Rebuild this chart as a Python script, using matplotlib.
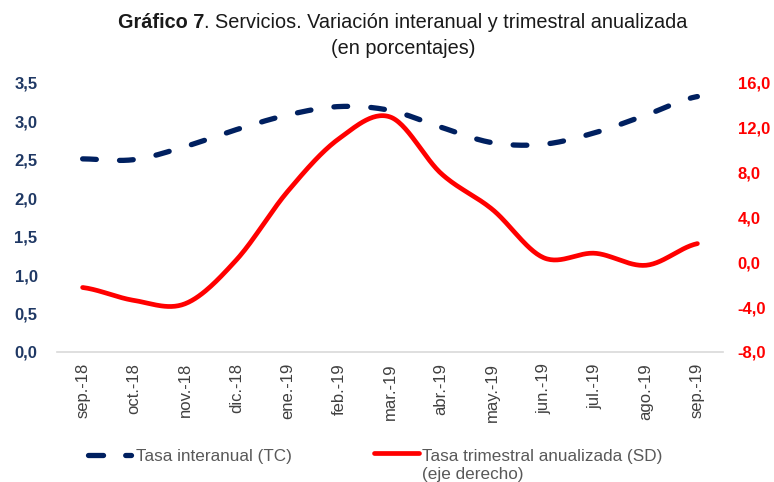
import numpy as np
import matplotlib
matplotlib.use("Agg")
import matplotlib.pyplot as plt
from matplotlib.lines import Line2D
from matplotlib.ticker import FuncFormatter, MultipleLocator

plt.rcParams['font.family'] = ['Liberation Sans', 'DejaVu Sans']

categories = ["sep.-18", "oct.-18", "nov.-18", "dic.-18", "ene.-19", "feb.-19",
              "mar.-19", "abr.-19", "may.-19", "jun.-19", "jul.-19", "ago.-19", "sep.-19"]
tasa_interanual = [2.51, 2.50, 2.67, 2.89, 3.08, 3.19, 3.14, 2.92, 2.72, 2.70, 2.85, 3.08, 3.32]
tasa_trimestral = [-2.25, -3.4, -3.7, 0.2, 6.3, 11.0, 12.95, 7.9, 4.7, 0.4, 0.8, -0.27, 1.66]
legend_labels = ["Tasa interanual (TC)", "Tasa trimestral anualizada (SD)", "(eje derecho)"]

NAVY = '#002060'
NAVY_TXT = '#1F3864'
RED = '#FF0000'
W, H = 774, 482


def smooth(x, y, n=30):
    """Catmull-Rom style smoothing (like Excel smoothed lines) for drawing."""
    x = np.asarray(x, float)
    y = np.asarray(y, float)
    xs, ys = [], []
    N = len(x)
    for i in range(N - 1):
        p0 = y[i - 1] if i > 0 else y[i]
        p3 = y[i + 2] if i + 2 < N else y[i + 1]
        m1 = (y[i + 1] - p0) / 2.0
        m2 = (p3 - y[i]) / 2.0
        t = np.linspace(0, 1, n, endpoint=(i == N - 2))
        h00 = 2 * t**3 - 3 * t**2 + 1
        h10 = t**3 - 2 * t**2 + t
        h01 = -2 * t**3 + 3 * t**2
        h11 = t**3 - t**2
        ys.append(h00 * y[i] + h10 * m1 + h01 * y[i + 1] + h11 * m2)
        xs.append(x[i] + t * (x[i + 1] - x[i]))
    return np.concatenate(xs), np.concatenate(ys)


def fx(px):
    return px / W


def fy(py):
    return 1 - py / H


fig = plt.figure(figsize=(7.74, 4.82), dpi=100)
ax = fig.add_axes([fx(57), fy(352), (723 - 57) / W, (352 - 82.7) / H])
ax2 = ax.twinx()

DASH = (0, (2.6, 4.4))
xpos = np.arange(len(categories))
sx, sy = smooth(xpos, tasa_interanual)
ax.plot(sx, sy, color=NAVY, lw=3.8, linestyle=DASH, dash_capstyle='round', zorder=3)
sx2, sy2 = smooth(xpos, tasa_trimestral)
ax2.plot(sx2, sy2, color=RED, lw=3.4, solid_capstyle='round', zorder=2)

ax.set_zorder(ax2.get_zorder() + 1)
ax.patch.set_visible(False)

ax.set_xlim(-0.5, len(categories) - 0.5)
ax.set_ylim(0, 3.5)
ax2.set_ylim(-8, 16)
ax.yaxis.set_major_locator(MultipleLocator(0.5))
ax2.yaxis.set_major_locator(MultipleLocator(4))
fmt = FuncFormatter(lambda v, p: f"{v:.1f}".replace('.', ','))
ax.yaxis.set_major_formatter(fmt)
ax2.yaxis.set_major_formatter(fmt)

ax.set_xticks(xpos)
ax.set_xticklabels(categories, rotation=90, fontsize=12, color='#404040')

for a in (ax, ax2):
    for s in a.spines.values():
        s.set_visible(False)
ax.spines['bottom'].set_visible(True)
ax.spines['bottom'].set_color('#D9D9D9')
ax.spines['bottom'].set_linewidth(1.2)

ax.tick_params(axis='x', length=0, pad=8)
ax.tick_params(axis='y', length=0, pad=14, labelsize=12, labelcolor=NAVY_TXT)
ax2.tick_params(axis='y', length=0, pad=10.5, labelsize=12, labelcolor=RED)
for lab in ax.get_yticklabels() + ax2.get_yticklabels():
    lab.set_fontweight('bold')

# Title
t1 = fig.text(fx(118), fy(32), "Gráfico 7", fontsize=14.3, fontweight='bold',
              color='#1a1a1a', ha='left', va='bottom')
ax.annotate(". Servicios. Variación interanual y trimestral anualizada",
            xy=(1, 0), xycoords=t1, ha='left', va='bottom', fontsize=14.3,
            color='#1a1a1a', annotation_clip=False)
fig.text(fx(403), fy(48), "(en porcentajes)", fontsize=14.3, color='#1a1a1a',
         ha='center', va='center')

# Legend (manual layout)
fig.add_artist(Line2D([fx(88), fx(131)], [fy(455), fy(455)], transform=fig.transFigure,
                      color=NAVY, lw=3.8, linestyle=(0, (2.85, 4.2)), dash_capstyle='round'))
fig.text(fx(136), fy(456), legend_labels[0], fontsize=12.3, color='#595959',
         ha='left', va='center')
fig.add_artist(Line2D([fx(374), fx(419)], [fy(453), fy(453)], transform=fig.transFigure,
                      color=RED, lw=3.4, solid_capstyle='round'))
fig.text(fx(422), fy(456), legend_labels[1], fontsize=12.3, color='#595959',
         ha='left', va='center')
fig.text(fx(422), fy(474), legend_labels[2], fontsize=12.3, color='#595959',
         ha='left', va='center')

fig.savefig("out.png", dpi=100)
